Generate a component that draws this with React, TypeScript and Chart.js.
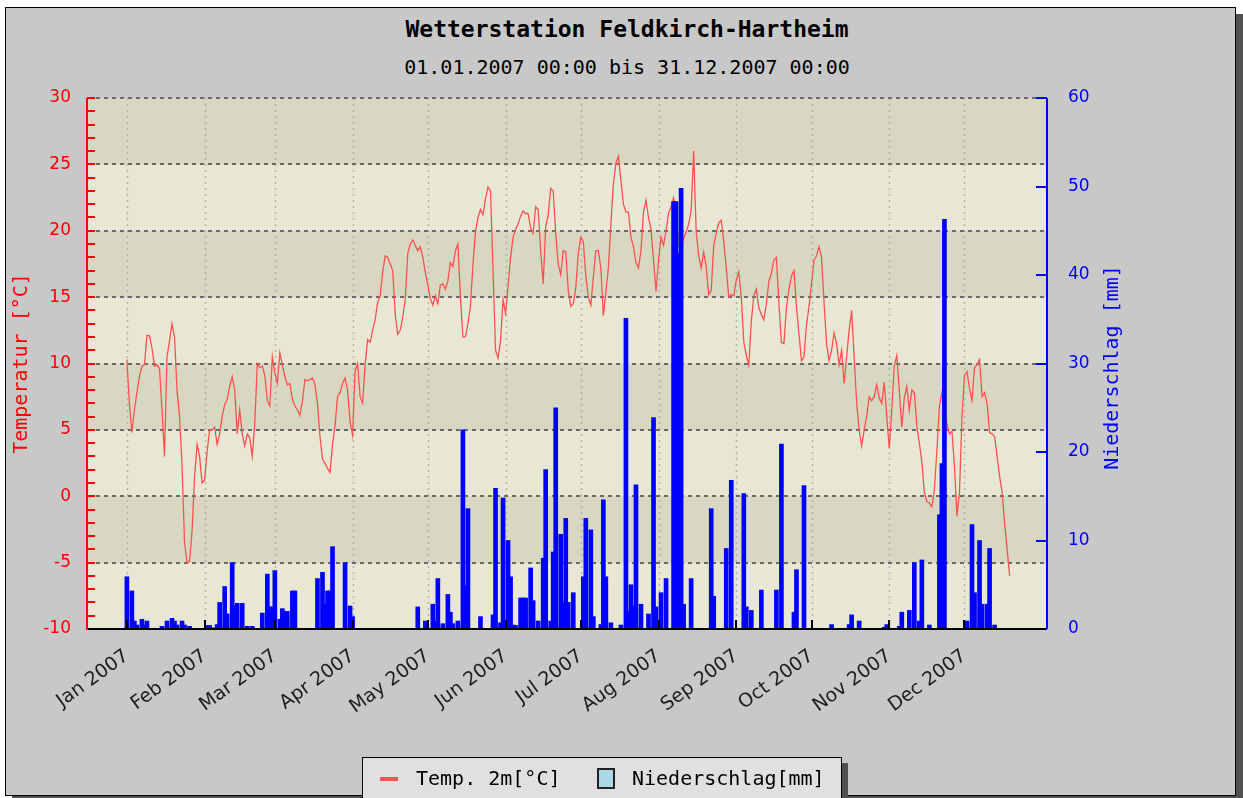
import React, { useEffect, useRef } from "react";
import { Chart, registerables } from "chart.js";

Chart.register(...registerables);

// ---------- data ----------
const MONTH_LABELS = [
  "Jan 2007", "Feb 2007", "Mar 2007", "Apr 2007", "May 2007", "Jun 2007",
  "Jul 2007", "Aug 2007", "Sep 2007", "Oct 2007", "Nov 2007", "Dec 2007",
];
// day index (0 = 1 Jan 2007) of each month start
const MONTH_START_DAYS = [0, 31, 59, 90, 120, 151, 181, 212, 243, 273, 304, 334];

// daily mean temperature 2 m [°C]
const TEMP_JAN = [10.3, 7.0, 4.8, 6.5, 7.8, 9.0, 9.8, 9.9, 12.1, 12.1, 11.2, 9.8, 9.9, 9.6, 6.5, 3.0, 10.5, 11.7, 13.0, 12.0, 8.0, 6.0, 2.3, -3.5, -5.0, -4.9, -2.6, 1.5, 3.9, 3.0, 1.0];
const TEMP_FEB = [1.2, 3.4, 5.0, 5.0, 5.2, 3.9, 4.7, 6.0, 6.9, 7.3, 8.3, 9.0, 8.0, 4.7, 6.5, 4.7, 3.8, 4.7, 4.4, 3.0, 5.5, 10.0, 9.7, 9.8, 9.1, 7.2, 6.8, 10.5];
const TEMP_MAR = [9.3, 8.5, 10.8, 9.9, 9.0, 8.4, 8.5, 7.3, 6.8, 6.5, 6.1, 7.2, 8.8, 8.7, 8.8, 8.9, 8.4, 7.0, 4.5, 2.8, 2.5, 2.1, 1.8, 3.9, 5.3, 7.5, 7.8, 8.5, 8.9, 8.0, 5.6];
const TEMP_APR = [4.6, 9.4, 10.0, 7.5, 7.0, 9.9, 11.8, 11.6, 12.5, 13.3, 14.6, 15.1, 16.9, 18.1, 18.0, 17.5, 17.0, 13.7, 12.2, 12.5, 13.5, 14.8, 18.3, 19.0, 19.3, 18.9, 18.5, 18.8, 18.0, 16.9];
const TEMP_MAY = [15.9, 14.9, 14.4, 15.1, 14.5, 15.9, 16.0, 15.6, 16.2, 17.6, 17.3, 18.5, 19.0, 15.0, 12.0, 12.0, 13.0, 14.3, 17.5, 19.9, 21.0, 21.6, 21.2, 22.4, 23.3, 23.0, 17.0, 11.0, 10.4, 11.7, 14.8];
const TEMP_JUN = [13.8, 15.8, 18.0, 19.5, 20.1, 20.5, 21.1, 21.5, 21.3, 21.3, 20.2, 19.8, 21.8, 21.6, 18.5, 16.0, 20.3, 21.2, 23.2, 23.0, 19.8, 17.5, 16.7, 18.5, 18.4, 15.5, 14.3, 14.5, 15.7, 18.3];
const TEMP_JUL = [19.5, 19.2, 16.6, 15.0, 14.4, 16.5, 18.5, 18.5, 17.2, 13.6, 15.4, 17.2, 20.5, 23.5, 25.1, 25.6, 23.8, 22.0, 21.4, 21.4, 19.5, 18.8, 17.6, 17.2, 18.5, 21.4, 22.3, 21.0, 20.1, 17.8, 15.4];
const TEMP_AUG = [17.8, 19.5, 18.9, 20.0, 21.3, 21.8, 22.5, 21.5, 19.0, 18.5, 19.4, 19.9, 20.5, 21.5, 26.0, 20.0, 18.1, 17.2, 18.4, 17.3, 15.2, 15.5, 18.9, 19.8, 20.6, 20.8, 19.2, 17.2, 15.0, 15.2, 15.1];
const TEMP_SEP = [16.3, 16.9, 15.0, 11.6, 10.6, 9.9, 13.2, 15.1, 15.6, 14.2, 13.7, 13.3, 14.5, 16.2, 16.8, 17.8, 18.0, 14.5, 11.6, 11.5, 14.2, 15.6, 16.6, 17.0, 14.3, 12.2, 10.2, 10.5, 12.9, 14.3];
const TEMP_OCT = [16.0, 17.8, 18.1, 18.8, 18.0, 14.6, 11.5, 10.2, 11.0, 12.3, 11.5, 9.9, 11.0, 8.5, 10.5, 12.5, 14.0, 10.5, 7.0, 5.0, 3.8, 5.0, 6.0, 7.5, 7.2, 7.5, 8.4, 7.4, 7.0, 8.6, 6.0];
const TEMP_NOV = [3.6, 6.5, 9.8, 10.6, 8.0, 5.2, 7.4, 8.3, 6.5, 8.0, 7.8, 5.3, 4.0, 2.6, 0.3, -0.4, -0.5, -0.8, 0.5, 3.5, 6.8, 7.8, 6.5, 5.5, 4.7, 4.9, 2.3, -1.5, 0.3, 6.0];
const TEMP_DEC = [9.1, 9.4, 8.1, 7.2, 9.7, 9.9, 10.3, 7.5, 7.8, 7.0, 4.8, 4.7, 4.5, 3.0, 1.5, 0.3, -2.0, -4.0, -6.0];

const TEMPERATURE = [
  ...TEMP_JAN, ...TEMP_FEB, ...TEMP_MAR, ...TEMP_APR, ...TEMP_MAY, ...TEMP_JUN,
  ...TEMP_JUL, ...TEMP_AUG, ...TEMP_SEP, ...TEMP_OCT, ...TEMP_NOV, ...TEMP_DEC,
];

// daily precipitation [mm] (days without rain are omitted)
const RAIN_DAYS = [
  0, 2, 3, 4, 6, 7, 8, 14, 16, 18, 19, 20, 22, 23, 25,
  32, 33, 35, 36, 37, 39, 40, 42, 43, 44, 46, 48, 50,
  54, 56, 57, 58, 59, 61, 62, 63, 64, 66, 67,
  76, 78, 79, 80, 81, 82, 87, 89, 90,
  116, 119, 122, 123, 124, 126, 128, 129, 130, 132, 134, 135, 136, 141, 146, 147, 149, 150,
  152, 153, 154, 155, 157, 158, 159, 161, 162, 164, 166, 167, 169, 170, 171, 173, 174, 175, 176, 178,
  182, 183, 185, 186, 189, 190, 191, 193, 197, 199, 200, 201, 202, 203, 205, 208, 210, 211,
  213, 215, 218, 219, 220, 221, 222, 225, 233, 234,
  239, 241, 246, 247, 249, 253, 259, 261, 266, 267, 270,
  281, 288, 289, 292, 302, 303,
  308, 309, 312, 314, 316, 317, 320, 324, 325, 326,
  335, 337, 338, 340, 341, 343, 344, 346,
];
const RAIN_MM = [
  5.9, 4.3, 0.9, 0.45, 1.1, 0.45, 0.9, 0.3, 0.9, 1.2, 0.9, 0.45, 0.9, 0.45, 0.3,
  0.4, 0.4, 0.15, 0.5, 3.0, 4.8, 1.7, 7.5, 2.6, 2.9, 2.9, 0.3, 0.3,
  1.8, 6.2, 2.5, 2.5, 6.6, 1.1, 2.3, 2.0, 2.0, 4.3, 4.3,
  5.7, 6.4, 2.8, 4.3, 4.3, 9.3, 7.5, 2.6, 1.4,
  2.5, 0.9, 2.8, 0.9, 5.7, 0.6, 3.9, 1.9, 0.6, 0.9, 22.5, 4.9, 13.6, 1.4, 1.6, 15.9, 0.7, 14.8,
  10.0, 5.9, 0.45, 0.4, 3.5, 3.5, 3.5, 6.9, 3.2, 0.9, 8.0, 18.0, 0.9, 8.7, 25.0, 10.7, 3.0, 12.5, 3.0, 4.1,
  5.9, 12.5, 11.2, 1.4, 0.5, 14.6, 5.9, 0.7, 0.45, 35.1, 2.0, 5.0, 2.6, 16.3, 2.8, 1.7, 23.9, 2.5,
  4.1, 5.7, 48.3, 48.3, 42.4, 49.8, 2.8, 5.7, 13.6, 3.7,
  9.1, 16.8, 15.3, 2.5, 2.1, 4.4, 4.4, 20.9, 1.9, 6.7, 16.2,
  0.5, 0.5, 1.6, 0.9, 0.2, 0.5,
  0.3, 1.9, 2.1, 7.5, 0.9, 7.8, 0.45, 12.9, 18.7, 46.3,
  0.9, 11.8, 4.1, 10.0, 2.8, 2.8, 9.1, 0.45,
];

const TEMP_MIN = -10;
const TEMP_MAX = 30;
const TEMP_STEP = 5;
const RAIN_MIN = 0;
const RAIN_MAX = 60;
const RAIN_STEP = 10;
const X_MIN = -15.5;
const X_MAX = 366.5;

const TITLE = "Wetterstation Feldkirch-Hartheim";
const SUBTITLE = "01.01.2007 00:00 bis 31.12.2007 00:00";
const Y_TITLE = "Temperatur [°C]";
const Y2_TITLE = "Niederschlag [mm]";
const LEGEND_TEMP = "Temp. 2m[°C]";
const LEGEND_RAIN = "Niederschlag[mm]";

// ---------- styling ----------
const W = 1243;
const H = 798;
const PLOT_LEFT = 88;
const PLOT_RIGHT = 1046;
const PLOT_TOP = 98;
const PLOT_BOTTOM = 629;
const MONO = "'DejaVu Sans Mono', 'Liberation Mono', monospace";
const SANS = "'DejaVu Sans', 'Liberation Sans', sans-serif";
const BAND_LIGHT = "#e8e7d4";
const BAND_DARK = "#d8d7c2";

const decorPlugin = {
  id: "decor",
  beforeDatasetsDraw(chart: any) {
    const { ctx, chartArea: a, scales } = chart;
    const x = scales.x;
    const y = scales.y;
    ctx.save();
    // alternating bands
    for (let v = TEMP_MIN; v < TEMP_MAX; v += TEMP_STEP) {
      const top = y.getPixelForValue(v + TEMP_STEP);
      const bot = y.getPixelForValue(v);
      const idx = Math.round((v - TEMP_MIN) / TEMP_STEP);
      ctx.fillStyle = idx % 2 === 0 ? BAND_LIGHT : BAND_DARK;
      ctx.fillRect(a.left, top, a.right - a.left, bot - top);
    }
    // vertical dotted month lines
    ctx.strokeStyle = "#b4b4a6";
    ctx.lineWidth = 1.5;
    ctx.setLineDash([2, 4]);
    for (const d of MONTH_START_DAYS) {
      const px = Math.round(x.getPixelForValue(d)) + 0.5;
      ctx.beginPath();
      ctx.moveTo(px, a.top);
      ctx.lineTo(px, a.bottom);
      ctx.stroke();
    }
    // horizontal dashed lines
    ctx.strokeStyle = "#6a6a6a";
    ctx.lineWidth = 2;
    ctx.setLineDash([4, 4]);
    for (let v = TEMP_MIN + TEMP_STEP; v <= TEMP_MAX; v += TEMP_STEP) {
      const py = Math.round(y.getPixelForValue(v));
      ctx.beginPath();
      ctx.moveTo(a.left, py);
      ctx.lineTo(a.right, py);
      ctx.stroke();
    }
    ctx.restore();
  },
  afterDatasetsDraw(chart: any) {
    const { ctx, chartArea: a, scales } = chart;
    const x = scales.x;
    const y = scales.y;
    const y2 = scales.y2;
    ctx.save();
    ctx.setLineDash([]);
    // left axis (red) with 1-degree ticks
    ctx.strokeStyle = "#ff0000";
    ctx.lineWidth = 2;
    ctx.beginPath();
    ctx.moveTo(a.left - 1, a.top);
    ctx.lineTo(a.left - 1, a.bottom + 1);
    ctx.stroke();
    for (let v = TEMP_MIN; v <= TEMP_MAX; v += 1) {
      const py = Math.round(y.getPixelForValue(v));
      ctx.beginPath();
      ctx.moveTo(a.left - 1, py);
      ctx.lineTo(a.left + 7, py);
      ctx.stroke();
    }
    // right axis (blue)
    ctx.strokeStyle = "#0000ff";
    ctx.beginPath();
    ctx.moveTo(a.right + 1, a.top);
    ctx.lineTo(a.right + 1, a.bottom);
    ctx.stroke();
    for (let v = RAIN_MIN; v <= RAIN_MAX; v += RAIN_STEP) {
      const py = Math.round(y2.getPixelForValue(v));
      ctx.beginPath();
      ctx.moveTo(a.right - 10, py);
      ctx.lineTo(a.right + 1, py);
      ctx.stroke();
    }
    // bottom axis (black)
    ctx.strokeStyle = "#000000";
    ctx.beginPath();
    ctx.moveTo(a.left, a.bottom);
    ctx.lineTo(a.right, a.bottom);
    ctx.stroke();
    for (const d of MONTH_START_DAYS) {
      const px = Math.round(x.getPixelForValue(d));
      ctx.beginPath();
      ctx.moveTo(px, a.bottom);
      ctx.lineTo(px, a.bottom - 9);
      ctx.stroke();
    }
    // right axis title (reads bottom to top)
    ctx.fillStyle = "#0000ff";
    ctx.font = `20px ${MONO}`;
    ctx.textAlign = "center";
    ctx.textBaseline = "middle";
    ctx.translate(1113, (a.top + a.bottom) / 2 + 4);
    ctx.rotate(-Math.PI / 2);
    ctx.fillText(Y2_TITLE, 0, 0);
    ctx.restore();
  },
};

export default function App() {
  const ref = useRef<HTMLCanvasElement | null>(null);

  useEffect(() => {
    document.body.style.margin = "0";
    document.body.style.background = "#ffffff";
    const canvas = ref.current;
    if (!canvas) return;
    const chart = new Chart(canvas, {
      type: "line",
      data: {
        datasets: [
          {
            type: "bar",
            label: LEGEND_RAIN,
            data: RAIN_DAYS.map((d, i) => ({ x: d, y: RAIN_MM[i] })),
            yAxisID: "y2",
            xAxisID: "x",
            backgroundColor: "#0000ff",
            borderWidth: 0,
            barThickness: 4,
            order: 0,
          } as any,
          {
            type: "line",
            label: LEGEND_TEMP,
            data: TEMPERATURE.map((t, i) => ({ x: i, y: t })),
            yAxisID: "y",
            xAxisID: "x",
            borderColor: "#ff5050",
            borderWidth: 1.3,
            pointRadius: 0,
            tension: 0,
            fill: false,
            order: 1,
          },
        ],
      },
      options: {
        animation: false,
        responsive: false,
        devicePixelRatio: 1,
        layout: { padding: { top: PLOT_TOP, left: 0, right: 0, bottom: 0 } },
        plugins: {
          legend: { display: false },
          title: { display: false },
          tooltip: { enabled: false },
        },
        scales: {
          x: {
            type: "linear",
            min: X_MIN,
            max: X_MAX,
            offset: false,
            grid: { display: false },
            border: { display: false },
            afterBuildTicks: (s: any) => {
              s.ticks = MONTH_START_DAYS.map((v) => ({ value: v }));
            },
            afterFit: (s: any) => {
              s.height = H - PLOT_BOTTOM;
            },
            ticks: {
              autoSkip: false,
              maxRotation: 36,
              minRotation: 36,
              padding: 8,
              color: "#1e1e1e",
              font: { family: SANS, size: 19 },
              callback: (v: any) => {
                const i = MONTH_START_DAYS.indexOf(Number(v));
                return i >= 0 ? MONTH_LABELS[i] : "";
              },
            },
          },
          y: {
            type: "linear",
            position: "left",
            min: TEMP_MIN,
            max: TEMP_MAX,
            grid: { display: false },
            border: { display: false },
            afterFit: (s: any) => {
              s.width = PLOT_LEFT;
            },
            ticks: {
              stepSize: TEMP_STEP,
              padding: 9,
              color: "#ff0000",
              font: { family: SANS, size: 17 },
            },
            title: {
              display: true,
              text: Y_TITLE,
              color: "#ff0000",
              font: { family: MONO, size: 20 },
              padding: { top: 10, bottom: 0 },
            },
          },
          y2: {
            type: "linear",
            position: "right",
            min: RAIN_MIN,
            max: RAIN_MAX,
            grid: { display: false },
            border: { display: false },
            afterFit: (s: any) => {
              s.width = W - PLOT_RIGHT;
            },
            ticks: {
              stepSize: RAIN_STEP,
              padding: 14,
              color: "#0000ff",
              font: { family: SANS, size: 17 },
            },
          },
        },
      } as any,
      plugins: [decorPlugin],
    });
    return () => chart.destroy();
  }, []);

  return (
    <div
      style={{
        position: "relative",
        width: W,
        height: H,
        overflow: "hidden",
        background: "#ffffff",
      }}
    >
      <div
        style={{
          position: "absolute",
          left: 5,
          top: 7,
          width: 1229,
          height: 787,
          background: "#c8c8c8",
          border: "1px solid #000",
          boxShadow: "7px 7px 0 #505050",
        }}
      />
      <div
        style={{
          position: "absolute",
          left: 127,
          top: 18,
          width: 1000,
          textAlign: "center",
          fontFamily: MONO,
          fontWeight: "bold",
          fontSize: 23,
          lineHeight: "23px",
          color: "#000",
          whiteSpace: "pre",
        }}
      >
        {TITLE}
      </div>
      <div
        style={{
          position: "absolute",
          left: 127,
          top: 57,
          width: 1000,
          textAlign: "center",
          fontFamily: MONO,
          fontSize: 20,
          lineHeight: "20px",
          color: "#000",
          whiteSpace: "pre",
        }}
      >
        {SUBTITLE}
      </div>
      <canvas
        ref={ref}
        width={W}
        height={H}
        style={{ position: "absolute", left: 0, top: 0, width: W, height: H }}
      />
      <div
        style={{
          position: "absolute",
          left: 362,
          top: 757,
          width: 478,
          height: 40,
          background: "#e0e0e0",
          border: "1px solid #000",
          boxShadow: "6px 6px 0 #505050",
        }}
      >
        <div
          style={{
            position: "absolute",
            left: 17,
            top: 19,
            width: 18,
            height: 4,
            background: "#ff5050",
          }}
        />
        <div
          style={{
            position: "absolute",
            left: 53,
            top: 10,
            fontFamily: MONO,
            fontSize: 20,
            lineHeight: "20px",
            color: "#000",
            whiteSpace: "pre",
          }}
        >
          {LEGEND_TEMP}
        </div>
        <div
          style={{
            position: "absolute",
            left: 234,
            top: 10,
            width: 14,
            height: 17,
            background: "#add8e6",
            border: "2px solid #222",
          }}
        />
        <div
          style={{
            position: "absolute",
            left: 269,
            top: 10,
            fontFamily: MONO,
            fontSize: 20,
            lineHeight: "20px",
            color: "#000",
            whiteSpace: "pre",
          }}
        >
          {LEGEND_RAIN}
        </div>
      </div>
    </div>
  );
}
